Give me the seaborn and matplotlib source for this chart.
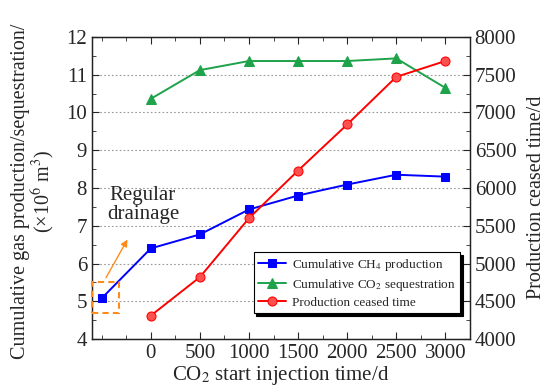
import matplotlib
matplotlib.use("Agg")
import matplotlib.pyplot as plt
import matplotlib.patches as mpatches
from matplotlib.ticker import MultipleLocator
import seaborn as sns
import pandas as pd

# CO2 start injection time (d); -500 denotes regular drainage without injection
inj_time = [-500, 0, 500, 1000, 1500, 2000, 2500, 3000]
ch4_prod = [5.08, 6.40, 6.77, 7.43, 7.80, 8.09, 8.35, 8.30]

co2_time = [0, 500, 1000, 1500, 2000, 2500, 3000]
co2_seq = [10.36, 11.12, 11.36, 11.36, 11.36, 11.43, 10.65]

stop_time_x = [0, 500, 1000, 1500, 2000, 2500, 3000]
stop_time = [4310, 4820, 5600, 6230, 6840, 7470, 7680]

x_ticks = [0, 500, 1000, 1500, 2000, 2500, 3000]

sns.set_style("ticks")
plt.rcParams["font.family"] = ["Liberation Serif", "DejaVu Serif"]
plt.rcParams["mathtext.fontset"] = "stix"

fig = plt.figure(figsize=(5.47, 3.92), dpi=100)
ax = fig.add_axes([0.168, 0.135, 0.691, 0.771])
ax2 = ax.twinx()

df_ch4 = pd.DataFrame({"t": inj_time, "v": ch4_prod})
df_co2 = pd.DataFrame({"t": co2_time, "v": co2_seq})
df_stop = pd.DataFrame({"t": stop_time_x, "v": stop_time})

sns.lineplot(data=df_ch4, x="t", y="v", ax=ax, color="#0000ff", marker="s",
             markersize=6.2, markeredgecolor="#0000ff", lw=1.4,
             label="Cumulative CH$_4$ production", legend=False)
sns.lineplot(data=df_co2, x="t", y="v", ax=ax, color="#1ea24a", marker="^",
             markersize=7, markeredgecolor="#1ea24a", lw=1.4,
             label="Cumulative CO$_2$ sequestration", legend=False)
sns.lineplot(data=df_stop, x="t", y="v", ax=ax2, color="#ff0000", marker="o",
             markersize=6.5, markerfacecolor="#ff5050", markeredgecolor="#ff0000", lw=1.4,
             label="Production ceased time", legend=False)

ax.set_xlim(-600, 3250)
ax.set_ylim(4, 12)
ax2.set_ylim(4000, 8000)

ax.set_xticks(x_ticks)
ax.xaxis.set_minor_locator(MultipleLocator(250))
ax.yaxis.set_major_locator(MultipleLocator(1))
ax.yaxis.set_minor_locator(MultipleLocator(0.5))
ax2.yaxis.set_major_locator(MultipleLocator(500))
ax2.yaxis.set_minor_locator(MultipleLocator(250))

ax.grid(axis="y", which="major", ls=(0, (1.5, 2)), color="#999999", lw=0.8)

ax.tick_params(axis="both", which="both", direction="in", labelsize=15,
               top=True, right=False)
ax.tick_params(which="major", length=5)
ax.tick_params(which="minor", length=3)
ax2.tick_params(axis="y", which="both", direction="in", labelsize=15)
ax2.tick_params(which="major", length=5)
ax2.tick_params(which="minor", length=3)

for a in (ax, ax2):
    for s in a.spines.values():
        s.set_color("#222222")
        s.set_linewidth(0.9)

ax.set_xlabel("CO$_2$ start injection time/d", fontsize=15, labelpad=1)
ax.set_ylabel("Cumulative gas production/sequestration/\n(×10$^6$ m$^3$)",
              fontsize=14.5, linespacing=1.0)
ax.yaxis.set_label_coords(-0.093, 0.49)
ax2.set_ylabel("Production ceased time/d", fontsize=14.5)
ax2.yaxis.set_label_coords(1.152, 0.47)

# Regular drainage marker box (drawn above the spines) and arrow
rect = mpatches.Rectangle((-596, 4.69), 269, 0.82, fill=False,
                          edgecolor="#ff8c1a", ls=(0, (3, 2)), lw=1.5,
                          transform=ax.transData, zorder=10, clip_on=False)
ax2.add_patch(rect)
ax.annotate("", xy=(-224, 6.70), xytext=(-470, 5.56),
            arrowprops=dict(arrowstyle="-|>", color="#ff8c1a", lw=1.0,
                            mutation_scale=10))
ax.text(-80, 7.55, "Regular\ndrainage", fontsize=15, ha="center", va="center",
        linespacing=1.05)

h1, l1 = ax.get_legend_handles_labels()
h2, l2 = ax2.get_legend_handles_labels()
leg = ax2.legend(h1 + h2, l1 + l2, loc="lower right",
                 bbox_to_anchor=(0.975, 0.085), fontsize=9.5, frameon=True,
                 fancybox=False, shadow={"color": "black", "alpha": 1},
                 edgecolor="black", borderpad=0.35, handlelength=2.1,
                 labelspacing=0.3, handletextpad=0.45, borderaxespad=0)
leg.get_frame().set_linewidth(0.8)

fig.savefig("out.png", dpi=100)
